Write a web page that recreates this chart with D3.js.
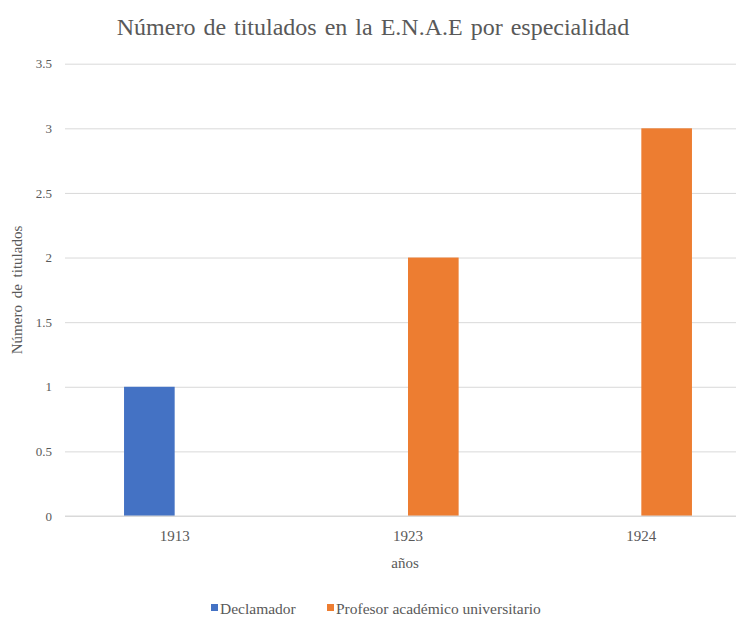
<!DOCTYPE html>
<html>
<head>
<meta charset="utf-8">
<script src="https://cdn.jsdelivr.net/npm/d3@7"></script>
</head>
<body style="margin:0">
<div id="chart"></div>
<script>
// datos
const years = ["1913", "1923", "1924"];
const series = ["Declamador", "Profesor académico universitario"];
const declamador = [1, 0, 0];
const profesor = [0, 2, 3];
const yTicks = [0, 0.5, 1, 1.5, 2, 2.5, 3, 3.5];
const colors = ["#4472C4", "#ED7D31"];

const width = 736, height = 619;
const st = px => `font-family:'Liberation Serif';font-size:${px}px`;

const svg = d3.select("#chart").append("svg")
  .attr("width", width).attr("height", height);

const x0 = d3.scaleBand().domain(years).range([58, 758]).padding(0);
const barW = x0.bandwidth() * 0.217;
const x1 = d3.scaleBand().domain(series).range([-barW, barW]);
const y = d3.scaleLinear().domain([0, 3.5]).range([516, 63.7]);

// rejilla + eje y
svg.append("g")
  .attr("transform", "translate(65,0)")
  .call(d3.axisLeft(y).tickValues(yTicks).tickSize(-(width - 65)).tickFormat(d => d))
  .call(g => g.select(".domain").remove())
  .call(g => g.selectAll("line").attr("stroke", "#d9d9d9"))
  .call(g => g.selectAll("text").attr("x", -13)
    .attr("style", st(13)).attr("fill", "#595959"));

// barras
const data = years.map((yr, i) => ({year: yr, values: [declamador[i], profesor[i]]}));

svg.append("g").selectAll("g")
  .data(data)
  .join("g")
  .attr("transform", d => `translate(${x0(d.year) + x0.bandwidth() / 2},0)`)
  .selectAll("rect")
  .data(d => d.values.map((v, j) => ({s: series[j], v: v, c: colors[j]})))
  .join("rect")
  .attr("x", d => x1(d.s))
  .attr("width", x1.bandwidth())
  .attr("y", d => y(d.v))
  .attr("height", d => y(0) - y(d.v))
  .attr("fill", d => d.c);

// eje x
svg.append("g")
  .attr("transform", "translate(0,516)")
  .call(d3.axisBottom(x0).tickSize(0).tickPadding(14))
  .call(g => g.select(".domain").remove())
  .call(g => g.selectAll("text").attr("style", st(15)).attr("fill", "#595959"));

// linea base
svg.append("line")
  .attr("x1", 65).attr("x2", width)
  .attr("y1", y(0)).attr("y2", y(0))
  .attr("stroke", "#d9d9d9");

// titulo
svg.append("text")
  .attr("x", 373).attr("y", 35)
  .attr("text-anchor", "middle")
  .attr("fill", "#595959")
  .attr("style", st(24) + ";word-spacing:2px")
  .text("Número de titulados en la E.N.A.E por especialidad");

svg.append("text")
  .attr("x", 405).attr("y", 568)
  .attr("text-anchor", "middle")
  .attr("fill", "#595959")
  .attr("style", st(15))
  .text("años");

svg.append("text")
  .attr("transform", "translate(22,290) rotate(-90)")
  .attr("text-anchor", "middle")
  .attr("fill", "#595959")
  .attr("style", st(15) + ";word-spacing:3px")
  .text("Número de titulados");

// leyenda
const legend = svg.append("g").attr("transform", "translate(0,614)");
const legX = [211, 327];
series.forEach((s, i) => {
  legend.append("rect")
    .attr("x", legX[i]).attr("y", -10)
    .attr("width", 7).attr("height", 7)
    .attr("fill", colors[i]);
  legend.append("text")
    .attr("x", legX[i] + 9).attr("y", 0)
    .attr("fill", "#595959")
    .attr("style", st(15.5))
    .text(s);
});
</script>
</body>
</html>
